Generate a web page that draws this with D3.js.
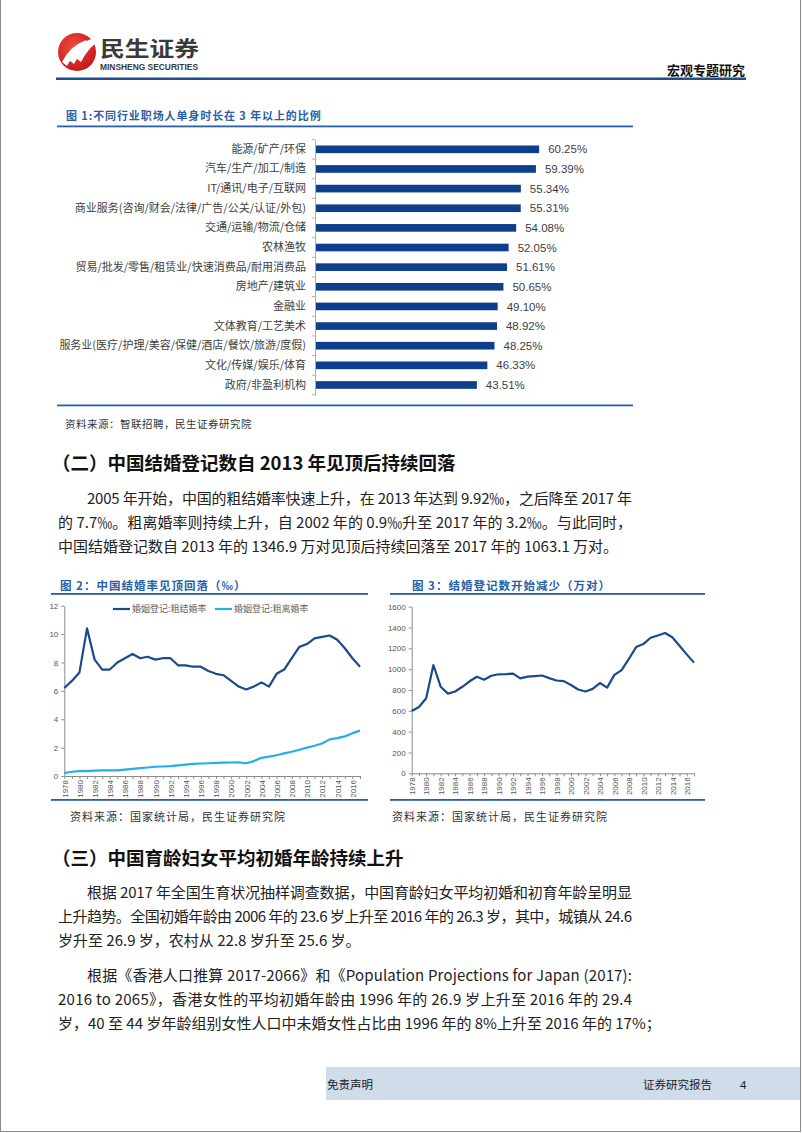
<!DOCTYPE html>
<html><head><meta charset="utf-8">
<script src="https://cdn.jsdelivr.net/npm/d3@7"></script>
<style>
html,body{margin:0;padding:0;background:#fff;}
svg{display:block;}
</style></head><body>
<svg id="page" width="802" height="1133"></svg>
<script>
// ---------- DATA ----------
const industries = ["能源/矿产/环保","汽车/生产/加工/制造","IT/通讯/电子/互联网","商业服务(咨询/财会/法律/广告/公关/认证/外包)","交通/运输/物流/仓储","农林渔牧","贸易/批发/零售/租赁业/快速消费品/耐用消费品","房地产/建筑业","金融业","文体教育/工艺美术","服务业(医疗/护理/美容/保健/酒店/餐饮/旅游/度假)","文化/传媒/娱乐/体育","政府/非盈利机构"];
const singleShare = [60.25,59.39,55.34,55.31,54.08,52.05,51.61,50.65,49.10,48.92,48.25,46.33,43.51];

const years = [1978,1979,1980,1981,1982,1983,1984,1985,1986,1987,1988,1989,1990,1991,1992,1993,1994,1995,1996,1997,1998,1999,2000,2001,2002,2003,2004,2005,2006,2007,2008,2009,2010,2011,2012,2013,2014,2015,2016,2017];
const marriageRate = [6.2,6.7,7.3,10.4,8.2,7.5,7.5,8.0,8.3,8.6,8.3,8.4,8.2,8.3,8.3,7.8,7.8,7.7,7.7,7.4,7.2,7.1,6.7,6.3,6.1,6.3,6.6,6.3,7.2,7.5,8.3,9.1,9.3,9.7,9.8,9.9,9.6,9.0,8.3,7.7];
const divorceRate = [0.2,0.3,0.35,0.35,0.38,0.4,0.4,0.4,0.45,0.5,0.55,0.6,0.65,0.67,0.7,0.75,0.8,0.85,0.88,0.9,0.93,0.94,0.95,0.96,0.9,1.05,1.28,1.37,1.46,1.59,1.71,1.85,2.0,2.13,2.29,2.58,2.67,2.79,3.02,3.2];
const marriageCount = [598,637,720,1040,832,765,786,831,884,927,899,937,951,953,957,912,929,934,939,914,891,885,848,805,786,811,867,823,945,991,1098,1212,1241,1302,1324,1347,1307,1225,1142,1063];

const rateTicks = [0,2,4,6,8,10,12];
const countTicks = [0,200,400,600,800,1000,1200,1400,1600];
const yearLabels = [1978,1980,1982,1984,1986,1988,1990,1992,1994,1996,1998,2000,2002,2004,2006,2008,2010,2012,2014,2016];

const seriesNames = ["婚姻登记:粗结婚率","婚姻登记:粗离婚率"];

const sec2Lines = ["2005 年开始，中国的粗结婚率快速上升，在 2013 年达到 9.92‰，之后降至 2017 年",
  "的 7.7‰。粗离婚率则持续上升，自 2002 年的 0.9‰升至 2017 年的 3.2‰。与此同时，",
  "中国结婚登记数自 2013 年的 1346.9 万对见顶后持续回落至 2017 年的 1063.1 万对。"];
const sec3Para1 = ["根据 2017 年全国生育状况抽样调查数据，中国育龄妇女平均初婚和初育年龄呈明显",
  "上升趋势。全国初婚年龄由 2006 年的 23.6 岁上升至 2016 年的 26.3 岁，其中，城镇从 24.6",
  "岁升至 26.9 岁，农村从 22.8 岁升至 25.6 岁。"];
const sec3Para2 = ["根据《香港人口推算 2017-2066》和《Population Projections for Japan (2017):",
  "2016 to 2065》，香港女性的平均初婚年龄由 1996 年的 26.9 岁上升至 2016 年的 29.4",
  "岁，40 至 44 岁年龄组别女性人口中未婚女性占比由 1996 年的 8%上升至 2016 年的 17%；"];

// ---------- STYLE ----------
const CJK = "'Noto Sans CJK SC','Noto Sans',sans-serif";
const LAT = "'Liberation Sans',Arial,sans-serif";
const BLUE = "#2660a8";
const NAVY = "#0f3f8c";
const svg = d3.select("#page");

// page frame
svg.append("line").attr("x1",0.5).attr("x2",0.5).attr("y1",0).attr("y2",1132).attr("stroke","#8a8a8a");
svg.append("line").attr("x1",800.5).attr("x2",800.5).attr("y1",0).attr("y2",1132).attr("stroke","#8a8a8a");
svg.append("line").attr("x1",0).attr("x2",801).attr("y1",1131.5).attr("y2",1131.5).attr("stroke","#8a8a8a");

// ---------- HEADER ----------
const logo = svg.append("g");
const grad = svg.append("defs").append("radialGradient").attr("id","lg").attr("cx","40%").attr("cy","35%").attr("r","70%");
grad.append("stop").attr("offset","0%").attr("stop-color","#f04a3a");
grad.append("stop").attr("offset","100%").attr("stop-color","#c4161c");
logo.append("circle").attr("cx",77).attr("cy",52).attr("r",19).attr("fill","url(#lg)");
[[0,0],[7,-2],[14,-4]].forEach(([dx,dy])=>{
  logo.append("path").attr("fill","#fff")
    .attr("d",`M${62+dx},${62+dy} Q${70+dx},${46+dy} ${86+dx},${40+dy} L${88+dx},${43+dy} Q${75+dx},${50+dy} ${67+dx},${66+dy} Z`);
});
svg.append("text").attr("x",100).attr("y",55.5).attr("font-family",CJK).attr("font-weight",700)
  .attr("font-size",21).attr("fill","#3a3a3a").attr("textLength",99).attr("lengthAdjust","spacingAndGlyphs").text("民生证券");
svg.append("text").attr("x",100).attr("y",70).attr("font-family",LAT).attr("font-weight",700)
  .attr("font-size",8.5).attr("fill","#3a3a3a").attr("textLength",98).attr("lengthAdjust","spacingAndGlyphs").text("MINSHENG SECURITIES");
svg.append("text").attr("x",745).attr("y",75).attr("text-anchor","end").attr("font-family",CJK).attr("font-weight",700)
  .attr("font-size",13).attr("fill","#111").text("宏观专题研究");
svg.append("rect").attr("x",56).attr("y",77.5).attr("width",690).attr("height",2.5).attr("fill","#1f4e8c");

// ---------- FIGURE 1 ----------
svg.append("text").attr("x",66).attr("y",120).attr("font-family",CJK).attr("font-weight",700)
  .attr("font-size",11).attr("letter-spacing",0.9).attr("fill",BLUE).text("图 1:不同行业职场人单身时长在 3 年以上的比例");
svg.append("rect").attr("x",57).attr("y",125.5).attr("width",576).attr("height",1.8).attr("fill",BLUE);
svg.append("rect").attr("x",57).attr("y",404.5).attr("width",576).attr("height",1.8).attr("fill",BLUE);

const bx = d3.scaleLinear().domain([0,70]).range([315,315+70*3.72]);
const by = d3.scaleBand().domain(industries).range([139.5,394.8]).paddingInner(0.61).paddingOuter(0.305);
const f1 = svg.append("g");
f1.selectAll("rect.bar").data(industries).join("rect").attr("class","bar")
  .attr("x",bx(0)).attr("y",d=>by(d)).attr("height",by.bandwidth())
  .attr("width",(d,i)=>bx(singleShare[i])-bx(0)).attr("fill",NAVY);
const yAx1 = f1.append("g").attr("transform",`translate(${bx(0)},0)`)
  .call(d3.axisLeft(by).tickSize(0).tickPadding(9));
yAx1.select(".domain").attr("stroke","#b0b0b0");
yAx1.selectAll("text").attr("font-family",CJK).attr("font-size",11).attr("fill","#404040");
const step = by.step();
const bounds = industries.map((d,i)=>by(d)-by.paddingInner()*step/2).concat([by(industries[industries.length-1])+by.bandwidth()+by.paddingInner()*step/2]);
f1.selectAll("line.bt").data(bounds).join("line").attr("class","bt")
  .attr("x1",bx(0)-3).attr("x2",bx(0)).attr("y1",d=>d).attr("y2",d=>d).attr("stroke","#b0b0b0");
f1.selectAll("text.val").data(industries).join("text").attr("class","val")
  .attr("x",(d,i)=>bx(singleShare[i])+9).attr("y",d=>by(d)+by.bandwidth()/2).attr("dy","0.36em")
  .attr("font-family",LAT).attr("font-size",11.5).attr("fill","#404040")
  .text((d,i)=>singleShare[i].toFixed(2)+"%");
svg.append("text").attr("x",65).attr("y",428).attr("font-family",CJK).attr("font-size",10.5)
  .attr("letter-spacing",0.5).attr("fill","#333").text("资料来源：智联招聘，民生证券研究院");

// ---------- TEXT BLOCKS ----------
function heading(t,y){
  svg.append("text").attr("x",52).attr("y",y).attr("font-family",CJK).attr("font-weight",700)
    .attr("font-size",18.5).attr("fill","#111").text(t);
}
function para(lines,y0){
  lines.forEach((t,i)=>{
    const x = i===0 ? 87 : 58;
    const tx = svg.append("text").attr("x",x).attr("y",y0+i*24).attr("font-family",CJK)
      .attr("font-size",15).attr("fill","#222").text(t);
    if(i<lines.length-1) tx.attr("textLength",632-x).attr("lengthAdjust","spacing");
  });
}
heading("（二）中国结婚登记数自 2013 年见顶后持续回落",470);
para(sec2Lines,504);
heading("（三）中国育龄妇女平均初婚年龄持续上升",865);
para(sec3Para1,898);
para(sec3Para2,981);

// ---------- LINE CHART helper ----------
function lineChart(o){
  const g = svg.append("g");
  g.append("text").attr("x",o.titleX).attr("y",590).attr("font-family",CJK).attr("font-weight",700)
    .attr("font-size",11.5).attr("letter-spacing",1).attr("fill",BLUE).text(o.title);
  g.append("rect").attr("x",o.lx0).attr("y",593).attr("width",o.lx1-o.lx0).attr("height",1.8).attr("fill",BLUE);
  g.append("rect").attr("x",o.lx0).attr("y",799).attr("width",o.lx1-o.lx0).attr("height",1.8).attr("fill",BLUE);
  const x = d3.scaleLinear().domain([1978,2017]).range([o.x0,o.x1]);
  const y = d3.scaleLinear().domain(o.ydom).range([o.y0,o.y1]);
  const ya = g.append("g").attr("transform",`translate(${o.x0},0)`)
    .call(d3.axisLeft(y).tickValues(o.yticks).tickFormat(d3.format("d")).tickSize(3).tickSizeOuter(0).tickPadding(3));
  const xa = g.append("g").attr("transform",`translate(0,${o.y0})`)
    .call(d3.axisBottom(x).tickValues(years).tickSize(3).tickSizeOuter(0)
      .tickFormat(d=>yearLabels.includes(d)?String(d):""));
  [ya,xa].forEach(a=>{
    a.selectAll(".domain").attr("stroke","#8c8c8c");
    a.selectAll(".tick line").attr("stroke","#8c8c8c");
    a.selectAll("text").attr("font-family",LAT).attr("font-size",8).attr("fill","#555");
  });
  xa.selectAll("text").attr("transform","rotate(-90)").attr("text-anchor","end")
    .attr("x",-4).attr("y",0).attr("dy","0.35em");
  const line = d3.line().x((d,i)=>x(years[i])).y(d=>y(d));
  o.series.forEach(s=>{
    g.append("path").datum(s.values).attr("d",line).attr("fill","none")
      .attr("stroke",s.color).attr("stroke-width",2.2).attr("stroke-linejoin","round");
  });
  g.append("text").attr("x",o.srcX).attr("y",821).attr("font-family",CJK).attr("font-size",11)
    .attr("letter-spacing",1).attr("fill","#333").text("资料来源：国家统计局，民生证券研究院");
  return g;
}

const g2 = lineChart({title:"图 2：中国结婚率见顶回落（‰）", titleX:60, lx0:51, lx1:368,
  x0:64.3, x1:360, y0:776, y1:605.7, ydom:[0,12], yticks:rateTicks, srcX:70,
  series:[{values:marriageRate,color:"#1b4a8a"},{values:divorceRate,color:"#22b0e6"}]});
const legColors = ["#1b4a8a","#22b0e6"];
const legX = [113,215];
seriesNames.forEach((n,i)=>{
  g2.append("line").attr("x1",legX[i]).attr("x2",legX[i]+17).attr("y1",609).attr("y2",609)
    .attr("stroke",legColors[i]).attr("stroke-width",2.2);
  g2.append("text").attr("x",legX[i]+19).attr("y",612).attr("font-family",CJK).attr("font-size",9)
    .attr("fill","#666").text(n);
});

lineChart({title:"图 3：结婚登记数开始减少（万对）", titleX:412, lx0:390, lx1:705,
  x0:411.7, x1:694, y0:773.3, y1:606.7, ydom:[0,1600], yticks:countTicks, srcX:392,
  series:[{values:marriageCount,color:"#1b4a8a"}]});

// ---------- FOOTER ----------
svg.append("rect").attr("x",326).attr("y",1067).attr("width",474).attr("height",33).attr("fill","#cfdcea");
svg.append("text").attr("x",327).attr("y",1089).attr("font-family",CJK).attr("font-size",11.5).attr("fill","#222").text("免责声明");
svg.append("text").attr("x",643).attr("y",1089).attr("font-family",CJK).attr("font-size",11.5).attr("fill","#222").text("证券研究报告");
svg.append("text").attr("x",740).attr("y",1089).attr("font-family",LAT).attr("font-size",11.5).attr("fill","#222").text("4");
</script>
</body></html>
